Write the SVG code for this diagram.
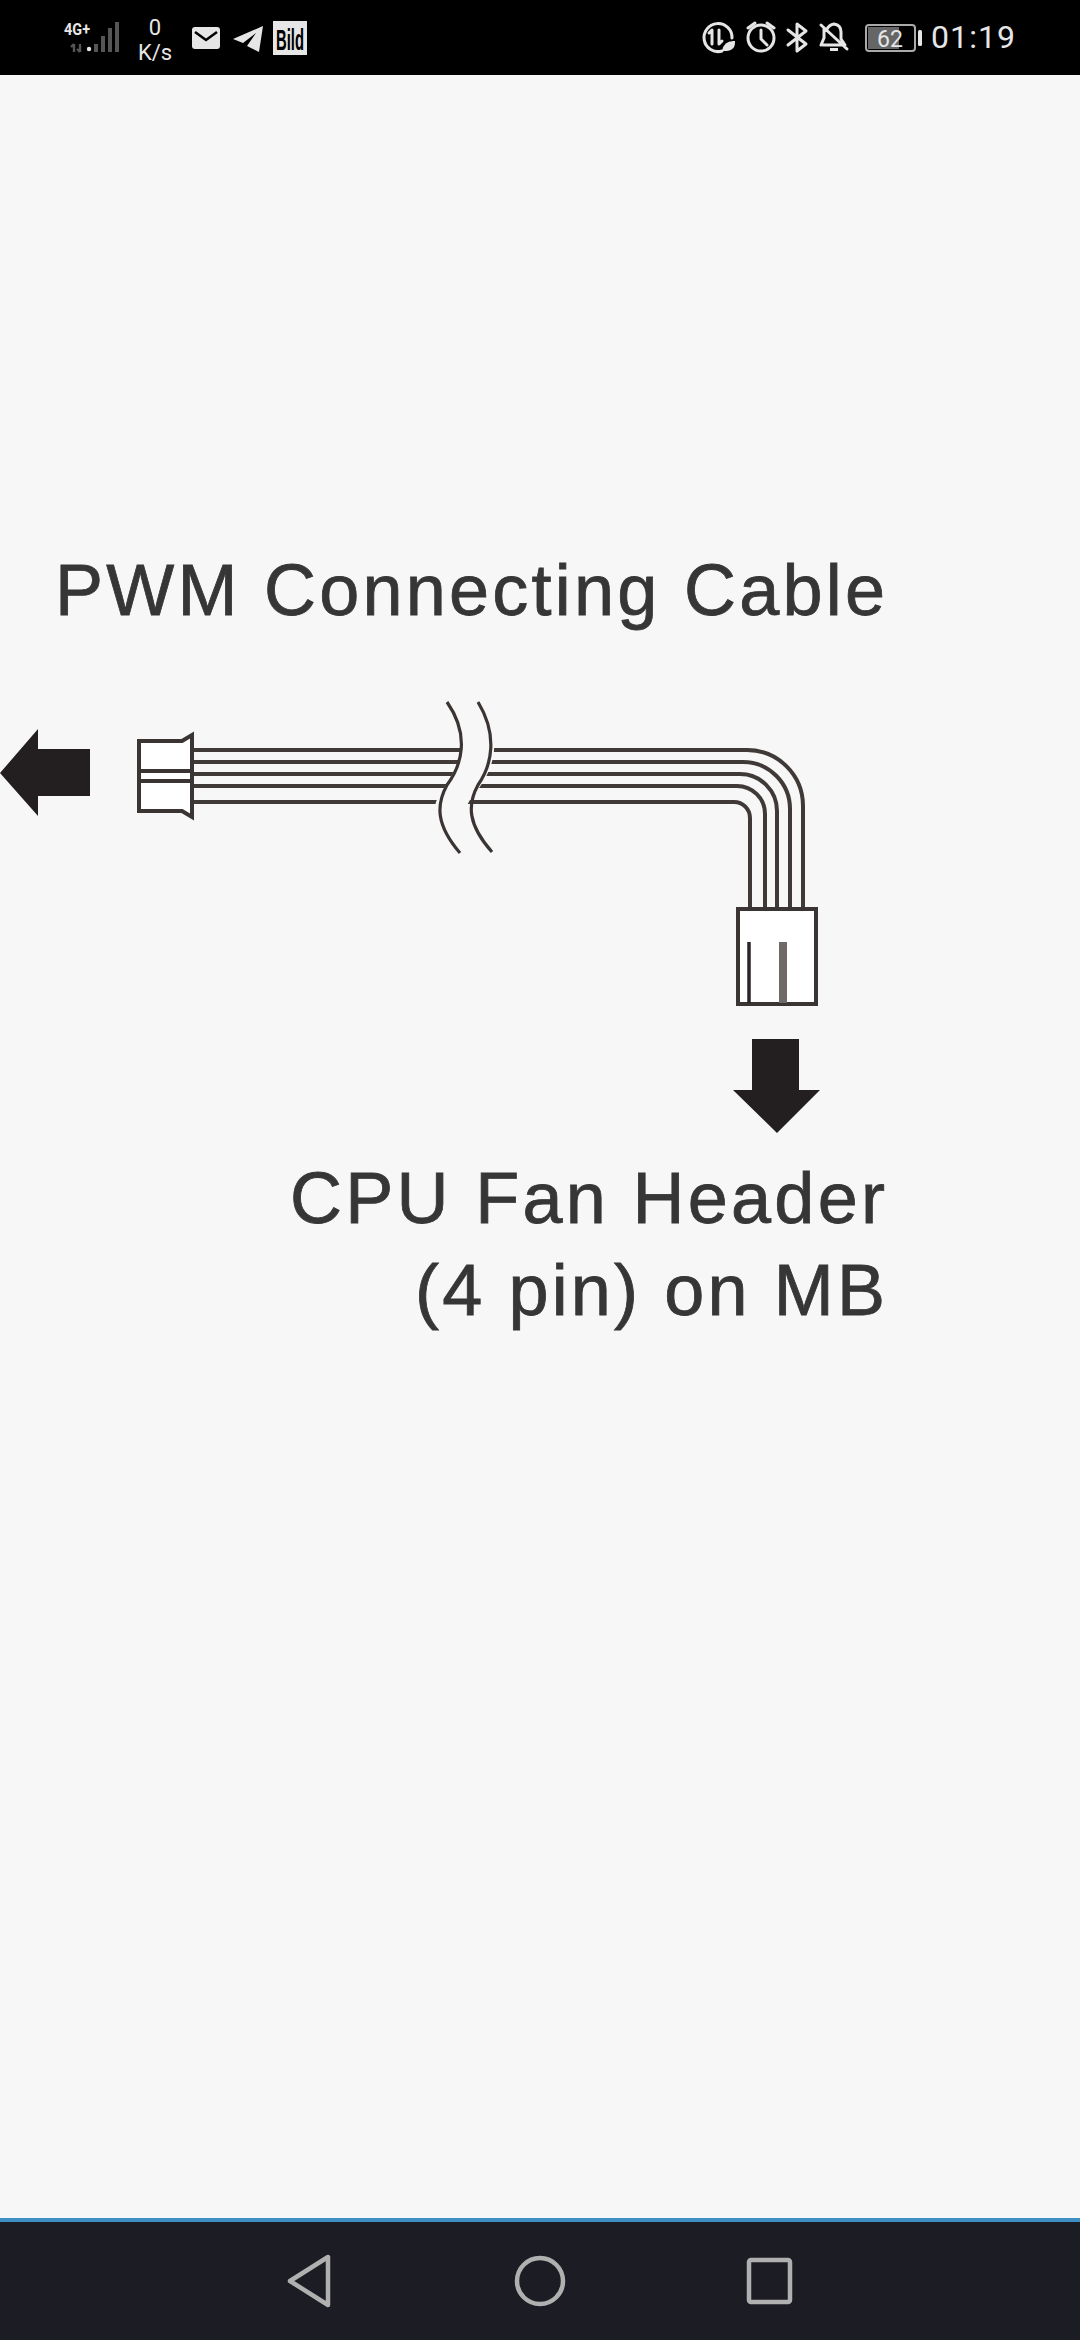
<svg xmlns="http://www.w3.org/2000/svg" width="1080" height="2340" viewBox="0 0 1080 2340">
<style>
.lbl{font-family:"Liberation Sans",Arial,sans-serif;font-size:72px;fill:#363636;stroke:#363636;stroke-width:.8}
.st{font-family:Roboto,"Liberation Sans",sans-serif;fill:#e6e6e6}
.ic{fill:none;stroke:#e6e6e6;stroke-width:3;stroke-linecap:round;stroke-linejoin:round}
.wire{fill:none;stroke:#3f3a38;stroke-width:4}
.box{fill:#fff;stroke:#3a3533;stroke-width:4}
.brk{fill:none;stroke:#3a3533;stroke-width:3.2}
.nav{fill:none;stroke:#b0b0b0;stroke-width:4.500;stroke-linejoin:round}
</style>
<rect width="1080" height="2340" fill="#f7f7f7"/>
<g id="status-bar">
<rect width="1080" height="75" fill="#000"/>
<text class="st" x="64" y="35" font-size="17" font-weight="700" textLength="26" lengthAdjust="spacingAndGlyphs">4G+</text>
<g fill="#555"><rect x="94" y="44" width="4" height="8"/><rect x="101" y="36" width="4" height="16"/><rect x="108" y="28" width="4" height="24"/><rect x="115" y="22" width="4" height="30"/></g>
<circle cx="89" cy="49" r="2.2" fill="#e6e6e6"/>
<path d="M74 52V44M71 47l3-3M80 44V52M77 49l3 3" fill="none" stroke="#555" stroke-width="2.4"/>
<text class="st" x="155" y="35" font-size="22" text-anchor="middle">0</text>
<text class="st" x="155" y="60" font-size="22" text-anchor="middle">K/s</text>
<path d="M195 27H217Q220 27 220 30V46Q220 49 217 49H195Q192 49 192 46V30Q192 27 195 27Z" fill="#e6e6e6"/>
<path d="M195 32L206 40L217 32" fill="none" stroke="#000" stroke-width="2.500"/>
<path d="M233 39L263 26L259 52L247 46L256 33L243 43Z" fill="#e6e6e6"/>
<rect x="273" y="21" width="34" height="34" fill="#e6e6e6"/>
<text x="290" y="50" font-family="'Liberation Sans',sans-serif" font-weight="700" font-size="30" fill="#000" text-anchor="middle" textLength="28" lengthAdjust="spacingAndGlyphs">Bild</text>
<g id="data-saver"><path class="ic" d="M722 51A14 14 0 1 1 732 38"/><path d="M722 51Q724 40 735 41Q736 52 722 51Z" fill="#e6e6e6"/><path class="ic" stroke-width="2.500" d="M712 44V30L709 33M719 30V44L722 41"/></g>
<g id="alarm"><circle class="ic" cx="761" cy="38" r="13"/><path class="ic" d="M761 30V39L767 45M748 28L755 23M774 28L767 23"/></g>
<path class="ic" d="M788 30L806 44L797 51V24L806 31L788 45"/>
<g id="bell-off"><path class="ic" d="M823 45H845L841 39V32Q841 25 834 24Q829 25 827 29M824 29V38L821 45M821 25L847 49"/><path d="M830 48h8v3h-8z" fill="#e6e6e6"/></g>
<g id="battery"><rect x="866" y="25" width="49" height="26" rx="3" fill="none" stroke="#aaa" stroke-width="2"/><rect x="868" y="27" width="31" height="22" fill="#666"/><rect x="918" y="30" width="4" height="16" rx="1.500" fill="#e6e6e6"/>
<text class="st" x="890" y="47" font-size="23" text-anchor="middle">62</text></g>
<text class="st" x="931" y="48" font-size="32" textLength="84">01:19</text>
</g>
<g id="connectors">
<path class="wire" d="M192 750H747A56 56 0 0 1 803 806V912"/>
<path class="wire" d="M192 762H743A47 47 0 0 1 790 809V912"/>
<path class="wire" d="M192 774H740A37 37 0 0 1 777 811V912"/>
<path class="wire" d="M192 786H737A28 28 0 0 1 765 814V912"/>
<path class="wire" d="M192 802H734A16 16 0 0 1 750 818V912"/>
</g>
<g id="cable-break">
<path d="M447 695C480 740 455 770 438 797C425 825 445 845 460 860L492 860C470 840 455 820 472 797C495 770 505 740 478 695Z" fill="#f7f7f7"/>
<path class="brk" d="M447 702C470 735 462 765 447 785C436 805 436 825 460 853"/>
<path class="brk" d="M478 702C498 735 492 765 478 785C467 805 468 825 492 852"/>
</g>
<g id="left-arrow"><path d="M0 773L38 729V749H90V796H38V816Z" fill="#231f20"/></g>
<g id="left-plug">
<path class="box" d="M139 741H182L192 735V817L182 811H139Z"/>
<path d="M141 771H191M141 781H191" stroke="#3a3533" stroke-width="4"/>
</g>
<g id="bottom-plug">
<rect class="box" x="738" y="909" width="78" height="95"/>
<path d="M749 942V1003" stroke="#2a2625" stroke-width="3.500"/>
<path d="M783 942V1003" stroke="#6f6a68" stroke-width="8"/>
</g>
<g id="down-arrow"><path d="M752 1039H799V1090H820L777 1133L733 1090H752Z" fill="#231f20"/></g>
<g id="label-cable"><text class="lbl" x="55" y="615" textLength="830">PWM Connecting Cable</text></g>
<g id="label-header">
<text class="lbl" x="290" y="1223" textLength="595">CPU Fan Header</text>
<text class="lbl" x="415" y="1315" textLength="470">(4 pin) on MB</text>
</g>
<g id="nav-bar">
<rect y="2222" width="1080" height="118" fill="#1c1d24"/>
<rect y="2218" width="1080" height="4" fill="#3d8fc4"/>
<path class="nav" d="M290 2281L328 2257V2305Z"/>
<circle class="nav" cx="540" cy="2281" r="23"/>
<rect class="nav" x="749" y="2260" width="41" height="42" rx="2"/>
</g>
</svg>
